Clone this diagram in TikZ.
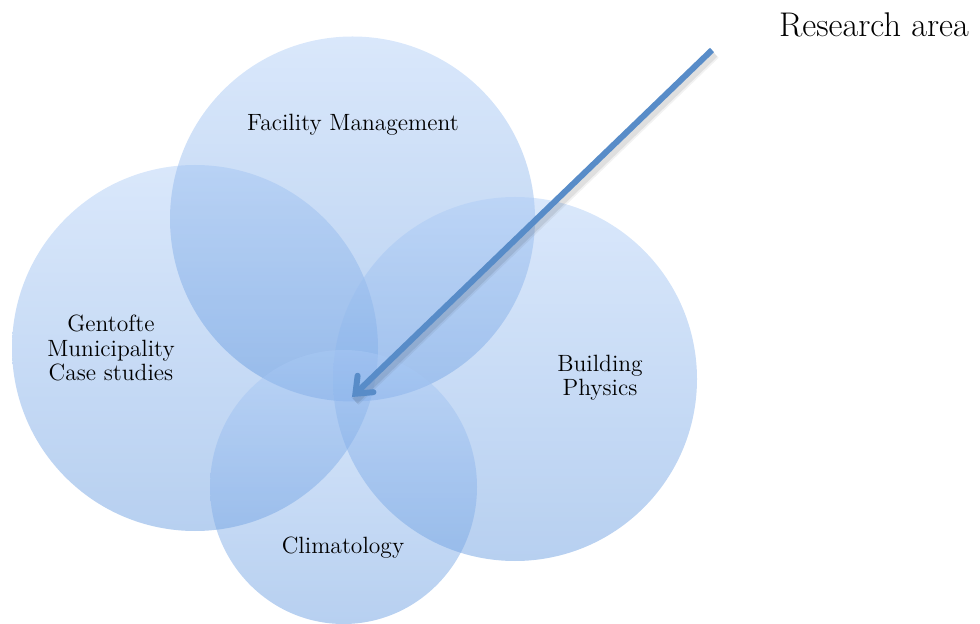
\documentclass[tikz,border=0pt]{standalone}
\usepackage{xcolor}
\usepackage{tikz}
\usetikzlibrary{arrows.meta,shapes}
\definecolor{circtop}{RGB}{172,203,246}
\definecolor{circbot}{RGB}{95,150,222}
\definecolor{arrowblue}{RGB}{88,140,200}

\begin{document}
\begin{tikzpicture}[x=0.02cm,y=-0.02cm,
  bubble/.style={top color=circtop,bottom color=circbot,opacity=0.45},
  lbl/.style={align=center,font=\fontsize{13.4}{13.8}\selectfont}]
  \useasboundingbox (0,0) rectangle (980,624);
  % the four areas
  \shade[bubble] (195,348) circle [radius=183];
  \shade[bubble] (352.5,219) circle [radius=182.5];
  \shade[bubble] (515,379) circle [radius=182];
  \shade[bubble] (343.5,487) ellipse [x radius=133.5, y radius=137];
  % labels
  \node[lbl] (fm) at (353,125) {Facility Management};
  \node[lbl] (gm) at (111,348) {Gentofte\\Municipality\\Case studies};
  \node[lbl] (bp) at (600,378) {Building\\Physics};
  \node[lbl] (cl) at (343,548) {Climatology};
  \node[font=\fontsize{19.5}{22}\selectfont] (ra) at (874,25) {Research area};
  % pointer
  \coordinate (ptail) at (712,50);
  \coordinate (phead) at (352,397);
  \draw[line width=6pt, black, opacity=0.05]
    ([shift={(3,4)}]ptail) -- ([shift={(3,4)}]phead);
  \draw[line width=4pt, black, opacity=0.08]
    ([shift={(3,4)}]ptail) -- ([shift={(3,4)}]phead);
  \draw[-{Straight Barb[length=8pt,width=13pt,line cap=round]}, line width=3.4pt, arrowblue] (ptail) -- (phead);
\end{tikzpicture}
\end{document}
